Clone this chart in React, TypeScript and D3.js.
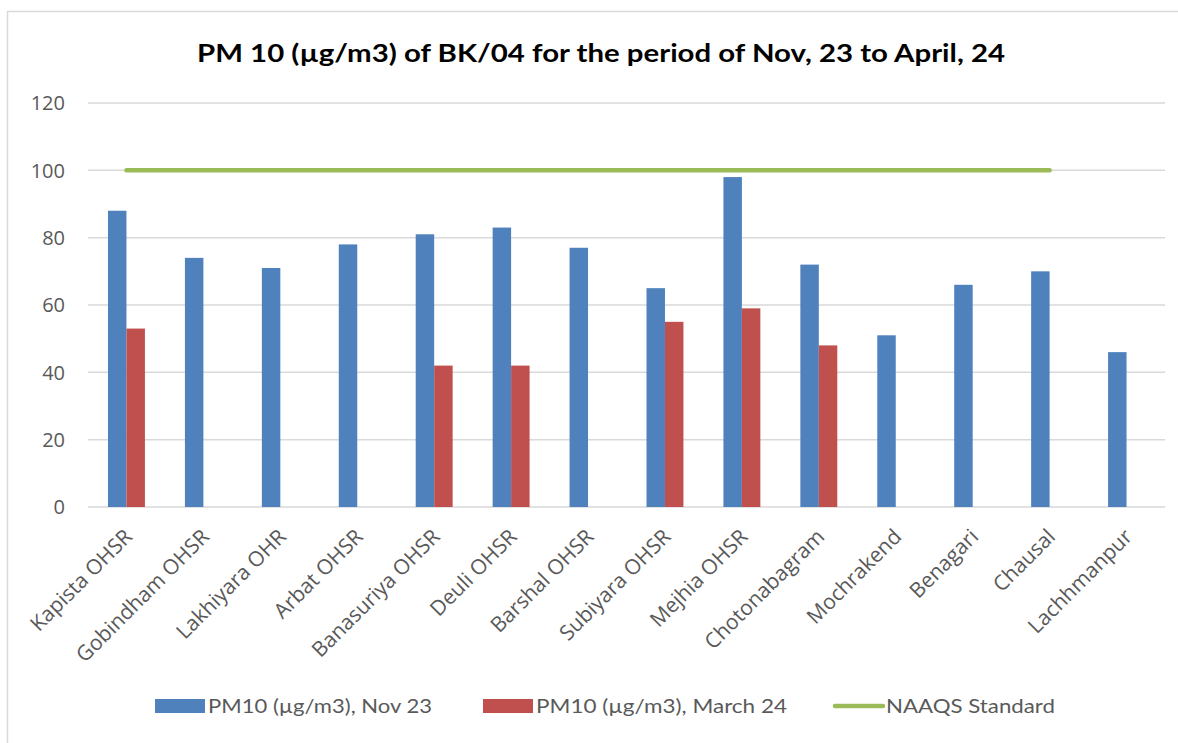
import React from "react";
import * as d3 from "d3";

const categories = [
  "Kapista OHSR", "Gobindham OHSR", "Lakhiyara OHR", "Arbat OHSR", "Banasuriya OHSR",
  "Deuli OHSR", "Barshal OHSR", "Subiyara OHSR", "Mejhia OHSR", "Chotonabagram",
  "Mochrakend", "Benagari", "Chausal", "Lachhmanpur",
];
const nov23: (number | null)[] = [88, 74, 71, 78, 81, 83, 77, 65, 98, 72, 51, 66, 70, 46];
const march24: (number | null)[] = [53, null, null, null, 42, 42, null, 55, 59, 48, null, null, null, null];
const naaqs: (number | null)[] = [100, 100, 100, 100, 100, 100, 100, 100, 100, 100, 100, 100, 100, null];
const yTicks = [0, 20, 40, 60, 80, 100, 120];
const seriesNames = ["PM10 (µg/m3), Nov 23", "PM10 (µg/m3), March 24", "NAAQS Standard"];
const title = "PM 10 (µg/m3) of BK/04 for the period of Nov, 23 to April, 24";

const W = 1178, H = 743;
const L = 88, R = 1165, T = 103, B = 507;
const BLUE = "#4F81BD", RED = "#C0504D", GREEN = "#9BBB59";
const GRID = "#D9D9D9", TXT = "#595959";

export default function App() {
  const x = d3.scaleBand<string>().domain(categories).range([L, R]).padding(0);
  const y = d3.scaleLinear().domain([0, 120]).range([B, T]);
  const half = x.bandwidth() * 0.24;
  const inner = d3.scaleBand<string>().domain(["nov", "mar"]).range([-half, half]).padding(0);
  const cx = (c: string) => (x(c) as number) + x.bandwidth() / 2;

  const line = d3.line<[string, number | null]>()
    .defined((d) => d[1] != null)
    .x((d) => cx(d[0]))
    .y((d) => y(d[1] as number));
  const lineData: [string, number | null][] = categories.map((c, i) => [c, naaqs[i]]);

  const bars: { k: string; c: string; v: number; color: string }[] = [];
  categories.forEach((c, i) => {
    if (nov23[i] != null) bars.push({ k: "nov", c, v: nov23[i] as number, color: BLUE });
    if (march24[i] != null) bars.push({ k: "mar", c, v: march24[i] as number, color: RED });
  });

  const legendY = 706;
  const legend = [
    { x: 155, name: seriesNames[0], color: BLUE, type: "rect", tl: 224 },
    { x: 483, name: seriesNames[1], color: RED, type: "rect", tl: 251 },
    { x: 833, name: seriesNames[2], color: GREEN, type: "line", tl: 169 },
  ];

  return (
    <div style={{ position: "absolute", left: 0, top: 0 }}>
      <svg width={W} height={H} style={{ display: "block", background: "#fff" }}>
        <rect x={7.5} y={11.5} width={1200} height={800} fill="#fff" stroke="#D9D9D9" strokeWidth={1.5} />
        <text x={601} y={62} textAnchor="middle" fontFamily="Lato, 'Open Sans', sans-serif" fontWeight="bold"
          fontSize={25} fill="#000" textLength={808} lengthAdjust="spacingAndGlyphs">{title}</text>
        {yTicks.map((t) => (
          <g key={t}>
            <line x1={L} x2={R} y1={y(t)} y2={y(t)} stroke={GRID} strokeWidth={1.5} />
            <text x={65} y={y(t)} dy="0.36em" textAnchor="end" fontFamily="'Open Sans', sans-serif"
              fontSize={20} fill={TXT}>{t}</text>
          </g>
        ))}
        {bars.map((b, i) => (
          <rect key={i} x={cx(b.c) + (inner(b.k) as number)} width={inner.bandwidth()}
            y={y(b.v)} height={y(0) - y(b.v)} fill={b.color} />
        ))}
        <path d={line(lineData) || ""} fill="none" stroke={GREEN} strokeWidth={4.5} strokeLinecap="round" />
        {categories.map((c) => (
          <text key={c} transform={`translate(${cx(c) + 7},${538}) rotate(-45)`} textAnchor="end"
            fontFamily="'Open Sans', sans-serif" fontSize={21} fill={TXT}>{c}</text>
        ))}
        {legend.map((l) => (
          <g key={l.name}>
            {l.type === "rect" ? (
              <rect x={l.x} y={legendY - 7} width={50} height={14} fill={l.color} />
            ) : (
              <line x1={l.x + 2} x2={l.x + 50} y1={legendY} y2={legendY} stroke={l.color} strokeWidth={4.5} strokeLinecap="round" />
            )}
            <text x={l.x + 53} y={legendY} dy="0.35em" fontFamily="Lato, 'Open Sans', sans-serif" fontSize={20}
              fill={TXT} textLength={l.tl} lengthAdjust="spacingAndGlyphs">{l.name}</text>
          </g>
        ))}
      </svg>
    </div>
  );
}
